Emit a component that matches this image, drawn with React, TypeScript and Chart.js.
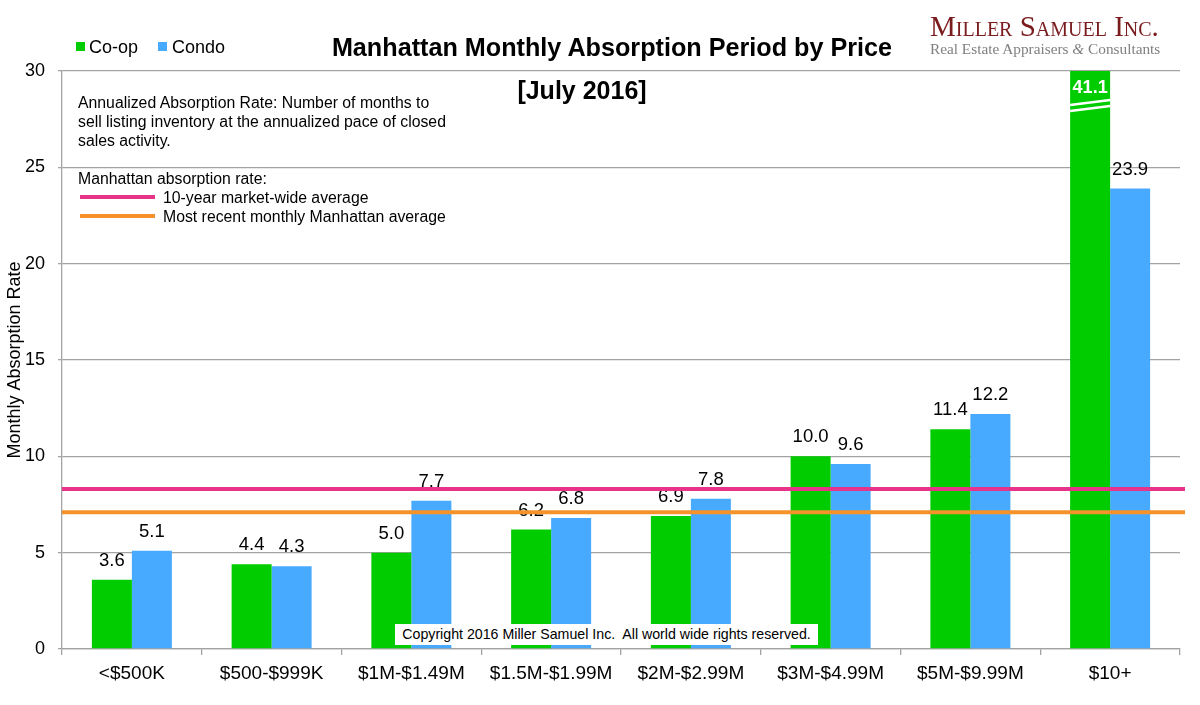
import React, { useEffect, useRef } from "react";
import { Chart, registerables } from "chart.js";

Chart.register(...registerables);

const categories = [
  "<$500K",
  "$500-$999K",
  "$1M-$1.49M",
  "$1.5M-$1.99M",
  "$2M-$2.99M",
  "$3M-$4.99M",
  "$5M-$9.99M",
  "$10+",
];
const coopValues = [3.6, 4.4, 5.0, 6.2, 6.9, 10.0, 11.4, 41.1];
const condoValues = [5.1, 4.3, 7.7, 6.8, 7.8, 9.6, 12.2, 23.9];
const yMin = 0;
const yMax = 30;
const yStep = 5;
const tenYearAverage = 8.3;
const recentMonthlyAverage = 7.1;

const GREEN = "#00cc00";
const BLUE = "#47aaff";
const PINK = "#e8338b";
const ORANGE = "#f5922a";
const GRID = "#a3a3a3";
const FONT = "'Liberation Sans', Arial, Helvetica, sans-serif";
const SERIF = "'Liberation Serif', 'DejaVu Serif', Georgia, serif";

const valueLabelsPlugin = {
  id: "valueLabels",
  afterDatasetsDraw(chart: any) {
    const ctx = chart.ctx as CanvasRenderingContext2D;
    const area = chart.chartArea;
    const yScale = chart.scales.y;
    ctx.save();
    chart.data.datasets.forEach((ds: any, di: number) => {
      const meta = chart.getDatasetMeta(di);
      meta.data.forEach((bar: any, i: number) => {
        const v = ds.data[i] as number;
        const txt = v.toFixed(1);
        if (v > yScale.max) {
          const half = bar.width / 2;
          const l = bar.x - half;
          const r = bar.x + half;
          ctx.strokeStyle = "#ffffff";
          ctx.lineWidth = 2.5;
          ctx.beginPath();
          ctx.moveTo(l, area.top + 34);
          ctx.lineTo(r, area.top + 29);
          ctx.moveTo(l, area.top + 40);
          ctx.lineTo(r, area.top + 35);
          ctx.stroke();
          ctx.fillStyle = "#ffffff";
          ctx.font = `bold 18px ${FONT}`;
          ctx.textAlign = "center";
          ctx.textBaseline = "middle";
          ctx.fillText(txt, bar.x, area.top + 17);
        } else {
          ctx.fillStyle = "#000000";
          ctx.font = `18.5px ${FONT}`;
          ctx.textAlign = "center";
          ctx.textBaseline = "middle";
          ctx.fillText(txt, bar.x, bar.y - 19);
        }
      });
    });
    ctx.restore();
  },
};

const averageLinesPlugin = {
  id: "averageLines",
  afterDatasetsDraw(chart: any) {
    const ctx = chart.ctx as CanvasRenderingContext2D;
    const area = chart.chartArea;
    const yScale = chart.scales.y;
    ctx.save();
    ctx.lineWidth = 4;
    const lines: [number, string][] = [
      [tenYearAverage, PINK],
      [recentMonthlyAverage, ORANGE],
    ];
    lines.forEach(([val, color]) => {
      const y = yScale.getPixelForValue(val);
      ctx.strokeStyle = color;
      ctx.beginPath();
      ctx.moveTo(area.left, y);
      ctx.lineTo(area.right + 5, y);
      ctx.stroke();
    });
    ctx.restore();
  },
};

export default function App() {
  const canvasRef = useRef<HTMLCanvasElement | null>(null);

  useEffect(() => {
    if (!canvasRef.current) return;
    const chart = new Chart(canvasRef.current, {
      type: "bar",
      data: {
        labels: categories,
        datasets: [
          {
            label: "Co-op",
            data: coopValues,
            backgroundColor: GREEN,
            borderWidth: 0,
            categoryPercentage: 0.5725,
            barPercentage: 1,
            clip: 0,
          },
          {
            label: "Condo",
            data: condoValues,
            backgroundColor: BLUE,
            borderWidth: 0,
            categoryPercentage: 0.5725,
            barPercentage: 1,
            clip: 0,
          },
        ],
      },
      options: {
        responsive: false,
        animation: false,
        devicePixelRatio: 1,
        layout: { padding: { left: 0, top: 71, right: 20, bottom: 0 } },
        plugins: {
          legend: { display: false },
          title: { display: false },
          tooltip: { enabled: false },
        },
        scales: {
          x: {
            afterFit(scale: any) {
              scale.height = 56;
            },
            grid: {
              display: true,
              drawOnChartArea: false,
              drawTicks: true,
              tickLength: 6,
              offset: true,
              color: GRID,
              lineWidth: 1.3,
            },
            border: { display: true, color: GRID, width: 1.3 },
            ticks: {
              color: "#000000",
              font: { family: FONT, size: 19 },
              padding: 7,
              maxRotation: 0,
              autoSkip: false,
            },
          },
          y: {
            min: yMin,
            max: yMax,
            afterFit(scale: any) {
              scale.width = 62;
            },
            ticks: {
              stepSize: yStep,
              color: "#000000",
              font: { family: FONT, size: 18 },
              padding: 13,
            },
            grid: {
              color: GRID,
              lineWidth: 1.3,
              tickLength: 4,
            },
            border: { display: true, color: GRID, width: 1.3 },
            title: {
              display: true,
              text: "Monthly Absorption Rate",
              color: "#000000",
              font: { family: FONT, size: 18 },
            },
          },
        },
      },
      plugins: [valueLabelsPlugin, averageLinesPlugin],
    });
    return () => chart.destroy();
  }, []);

  const abs = (s: React.CSSProperties): React.CSSProperties => ({
    position: "absolute",
    whiteSpace: "pre",
    fontFamily: FONT,
    color: "#000",
    ...s,
  });

  return (
    <div
      style={{
        position: "fixed",
        left: 0,
        top: 0,
        width: 1200,
        height: 705,
        background: "#ffffff",
        overflow: "hidden",
      }}
    >
      <canvas
        ref={canvasRef}
        width={1200}
        height={705}
        style={{ position: "absolute", left: 0, top: 0, width: 1200, height: 705 }}
      />
      <div style={{ position: "absolute", left: 0, top: 0, width: 1200, height: 705, pointerEvents: "none" }}>
        {/* legend */}
        <div style={abs({ left: 76, top: 42, width: 9, height: 9, background: GREEN })} />
        <div style={abs({ left: 89, top: 36, fontSize: 18, lineHeight: "22px" })}>Co-op</div>
        <div style={abs({ left: 158, top: 42, width: 9, height: 9, background: BLUE })} />
        <div style={abs({ left: 172, top: 36, fontSize: 18, lineHeight: "22px" })}>Condo</div>

        {/* title */}
        <div
          style={abs({
            left: 312,
            width: 600,
            top: 32,
            textAlign: "center",
            fontSize: 25.2,
            fontWeight: "bold",
            lineHeight: "30px",
          })}
        >
          Manhattan Monthly Absorption Period by Price
        </div>
        <div
          style={abs({
            left: 432,
            width: 300,
            top: 75,
            textAlign: "center",
            fontSize: 25,
            fontWeight: "bold",
            lineHeight: "30px",
          })}
        >
          [July 2016]
        </div>

        {/* logo */}
        <div
          style={abs({
            left: 930,
            top: 9,
            fontFamily: SERIF,
            fontSize: 29,
            fontVariant: "small-caps",
            color: "#7a1b1e",
            lineHeight: "34px",
            letterSpacing: "0px",
          })}
        >
          Miller Samuel Inc.
        </div>
        <div
          style={abs({
            left: 930,
            top: 39,
            fontFamily: SERIF,
            fontSize: 15.3,
            color: "#808080",
            lineHeight: "20px",
          })}
        >
          Real Estate Appraisers <span style={{ fontStyle: "italic" }}>&amp;</span> Consultants
        </div>

        {/* annotation */}
        <div style={abs({ left: 78, top: 93, fontSize: 15.8, lineHeight: "19px" })}>
          {"Annualized Absorption Rate: Number of months to\nsell listing inventory at the annualized pace of closed\nsales activity."}
        </div>
        <div style={abs({ left: 78, top: 169, fontSize: 15.8, lineHeight: "19px" })}>
          Manhattan absorption rate:
        </div>
        <div style={abs({ left: 80, top: 195, width: 75, height: 4, background: PINK })} />
        <div style={abs({ left: 163, top: 188, fontSize: 15.8, lineHeight: "19px" })}>
          10-year market-wide average
        </div>
        <div style={abs({ left: 80, top: 214, width: 75, height: 4, background: ORANGE })} />
        <div style={abs({ left: 163, top: 207, fontSize: 15.8, lineHeight: "19px" })}>
          Most recent monthly Manhattan average
        </div>

        {/* copyright */}
        <div
          style={abs({
            left: 395,
            top: 624,
            width: 423,
            height: 21,
            background: "#ffffff",
            fontSize: 14.2,
            lineHeight: "21px",
            textAlign: "center",
          })}
        >
          {"Copyright 2016 Miller Samuel Inc.  All world wide rights reserved."}
        </div>
      </div>
    </div>
  );
}
